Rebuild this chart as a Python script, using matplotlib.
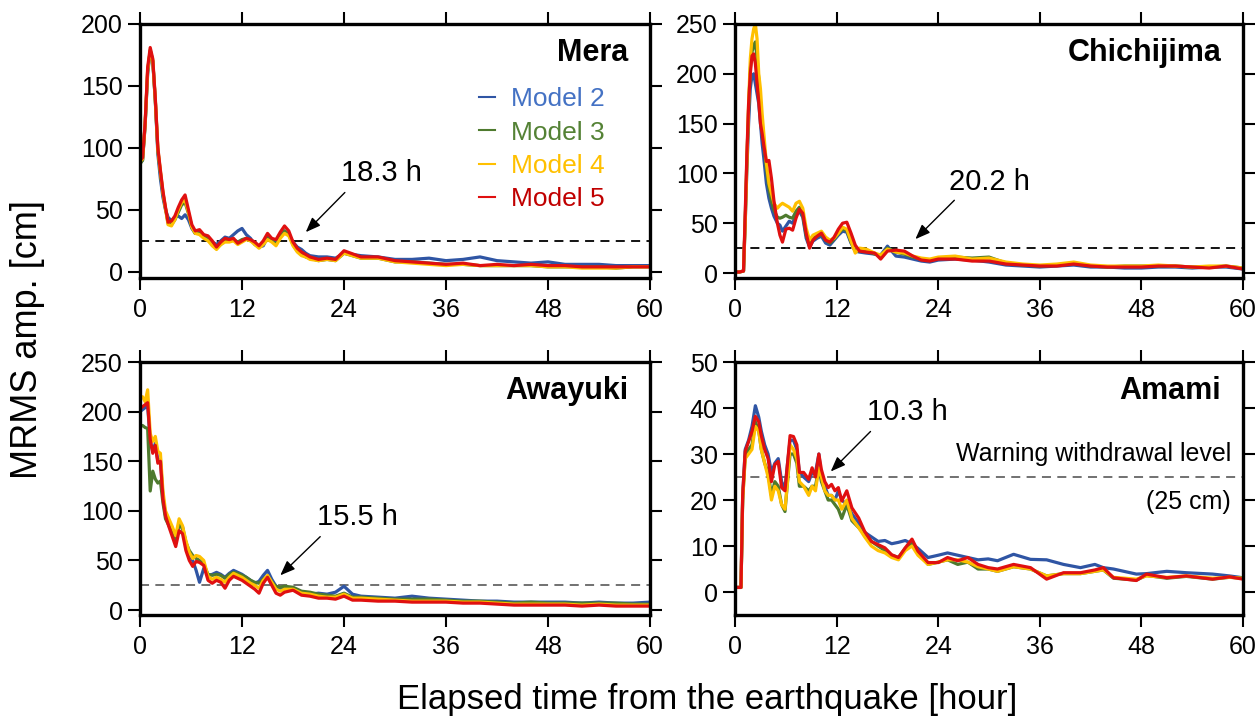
import matplotlib
matplotlib.use('Agg')
import matplotlib.pyplot as plt
from matplotlib.lines import Line2D

plt.rcParams['font.family'] = ['Liberation Sans', 'DejaVu Sans']

models = ['Model 2', 'Model 3', 'Model 4', 'Model 5']
line_colors = ['#2f55a4', '#4e7a2e', '#ffc000', '#e01010']
text_colors = ['#4472c4', '#548235', '#ffc000', '#c00000']

# ---- Mera ----
mera_t = [0, 0.3, 0.6, 0.9, 1.2, 1.5, 1.8, 2.1, 2.4, 2.7,
          3.0, 3.3, 3.7, 4.1, 4.5, 4.9, 5.3, 5.7, 6.1, 6.5,
          7.0, 7.5, 8.0, 8.5, 9.0, 9.5, 10, 10.5, 11, 11.5,
          12, 12.5, 13, 13.5, 14, 14.5, 15, 15.5, 16, 16.5,
          17, 17.5, 18, 18.5, 19, 19.5, 20, 21, 22, 23,
          24, 26, 28, 30, 32, 34, 36, 38, 40, 42,
          44, 46, 48, 50, 52, 54, 56, 58, 60]
mera_m2 = [88, 90, 118, 160, 178, 170, 138, 95, 75, 60,
           50, 44, 41, 44, 45, 43, 46, 42, 35, 31,
           32, 29, 27, 24, 22, 25, 28, 27, 30, 33,
           35, 30, 27, 22, 20, 21, 28, 25, 24, 28,
           33, 30, 24, 20, 18, 15, 13, 12, 12, 11,
           15, 13, 12, 10, 10, 11, 9, 10, 12, 9,
           8, 7, 8, 6, 6, 6, 5, 5, 5]
mera_m3 = [87, 90, 119, 162, 179, 170, 138, 98, 80, 63,
           51, 39, 38, 42, 48, 54, 56, 47, 36, 31,
           31, 28, 26, 22, 19, 22, 25, 25, 26, 24,
           26, 27, 25, 23, 20, 23, 27, 25, 22, 28,
           33, 30, 22, 17, 14, 12, 11, 9, 10, 9,
           15, 11, 11, 8, 8, 7, 6, 6, 5, 5,
           5, 5, 4, 4, 4, 4, 3, 4, 4]
mera_m4 = [89, 91, 119, 163, 178, 171, 139, 99, 81, 64,
           51, 38, 37, 42, 50, 56, 58, 48, 36, 31,
           30, 27, 25, 21, 18, 22, 24, 24, 25, 22,
           24, 26, 25, 22, 19, 22, 26, 24, 21, 27,
           31, 29, 21, 16, 13, 12, 10, 9, 10, 9,
           15, 11, 11, 8, 7, 6, 5, 6, 5, 5,
           5, 5, 4, 4, 3, 3, 3, 4, 4]
mera_m5 = [90, 92, 120, 165, 181, 172, 140, 100, 82, 65,
           52, 40, 41, 45, 52, 58, 62, 50, 38, 33,
           34, 30, 29, 25, 20, 24, 27, 26, 27, 23,
           25, 27, 26, 24, 21, 25, 31, 27, 26, 32,
           37, 33, 24, 19, 16, 14, 12, 10, 11, 10,
           17, 12, 12, 9, 8, 7, 6, 7, 5, 6,
           5, 6, 5, 5, 4, 4, 4, 4, 4]

# ---- Chichijima ----
chichi_t = [0, 0.5, 1.0, 1.2, 1.4, 1.6, 1.8, 2.0, 2.2, 2.4,
            2.6, 2.8, 3.0, 3.2, 3.4, 3.7, 4.0, 4.3, 4.6, 5.0,
            5.3, 5.6, 6.0, 6.4, 6.8, 7.2, 7.6, 8.0, 8.4, 8.8,
            9.2, 9.7, 10.2, 10.7, 11.2, 11.7, 12.2, 12.7, 13.2, 13.7,
            14.2, 14.7, 15.5, 16.5, 17.2, 18.0, 19.0, 20.0, 21.0, 22.0,
            23.0, 24.0, 26.0, 28.0, 30.0, 32.0, 34.0, 36.0, 38.0, 40.0,
            42.0, 44.0, 46.0, 48.0, 50.0, 52.0, 54.0, 56.0, 58.0, 60.0]
chichi_m2 = [1, 1, 2, 50, 105, 150, 185, 198, 200, 190,
             180, 170, 150, 130, 115, 90, 75, 65, 57, 50,
             48, 42, 47, 52, 50, 58, 62, 56, 35, 26,
             32, 35, 37, 30, 28, 33, 38, 42, 41, 30,
             22, 21, 20, 19, 18, 27, 17, 16, 14, 12,
             11, 13, 14, 13, 11, 8, 7, 6, 7, 8,
             6, 6, 5, 5, 6, 6, 5, 6, 6, 4]
chichi_m3 = [1, 1, 2, 55, 115, 165, 205, 222, 228, 232,
             215, 195, 170, 150, 130, 105, 85, 72, 63, 56,
             55, 56, 58, 56, 55, 62, 66, 58, 38, 28,
             35, 37, 39, 33, 30, 34, 40, 44, 43, 31,
             22, 23, 22, 19, 17, 25, 21, 19, 16, 14,
             13, 15, 16, 15, 16, 10, 8, 7, 8, 10,
             7, 6, 7, 7, 7, 7, 6, 6, 7, 5]
chichi_m4 = [1, 1, 2, 50, 110, 170, 215, 235, 245, 250,
             235, 200, 185, 160, 140, 110, 90, 80, 70, 65,
             68, 70, 68, 66, 62, 70, 72, 65, 45, 33,
             38, 40, 42, 36, 33, 35, 40, 46, 44, 32,
             20, 25, 24, 20, 18, 24, 21, 20, 17, 15,
             14, 16, 17, 14, 15, 11, 9, 8, 9, 11,
             8, 7, 7, 7, 8, 7, 6, 7, 7, 5]
chichi_m5 = [1, 1, 2, 60, 120, 170, 200, 218, 220, 210,
             190, 172, 150, 140, 128, 112, 113, 95, 72, 50,
             38, 31, 44, 45, 43, 55, 64, 60, 40, 25,
             33, 37, 40, 33, 31, 36, 44, 50, 51, 40,
             28, 22, 21, 20, 14, 22, 23, 22, 17, 13,
             12, 14, 14, 12, 12, 9, 8, 7, 7, 9,
             7, 6, 6, 6, 7, 7, 6, 5, 7, 4]

# ---- Awayuki ----
away_t = [0, 0.3, 0.6, 0.9, 1.2, 1.5, 1.8, 2.1, 2.4, 2.7,
          3.0, 3.4, 3.8, 4.2, 4.6, 5.0, 5.4, 5.8, 6.2, 6.6,
          7.0, 7.5, 8.0, 8.5, 9.0, 9.5, 10.0, 10.5, 11.0, 11.5,
          12.0, 12.5, 13.0, 13.5, 14.0, 14.5, 15.0, 15.5, 16.0, 16.5,
          17.0, 18.0, 19.0, 20.0, 21.0, 22.0, 23.0, 24.0, 25.0, 26.0,
          28.0, 30.0, 32.0, 34.0, 36.0, 38.0, 40.0, 42.0, 44.0, 46.0,
          48.0, 50.0, 52.0, 54.0, 56.0, 58.0, 60.0]
away_m2 = [200, 202, 204, 206, 170, 160, 168, 150, 152, 115,
           96, 88, 80, 70, 88, 84, 68, 56, 50, 40,
           28, 42, 35, 36, 38, 36, 33, 37, 40, 38,
           36, 33, 30, 27, 29, 35, 40, 31, 24, 22,
           23, 22, 18, 16, 17, 16, 18, 24, 16, 14,
           13, 12, 14, 12, 11, 10, 9, 9, 8, 8,
           8, 8, 7, 8, 7, 7, 8]
away_m3 = [185, 186, 184, 183, 120, 140, 132, 128, 130, 108,
           92, 85, 78, 72, 86, 82, 68, 60, 55, 52,
           50, 46, 36, 35, 36, 35, 32, 36, 38, 37,
           35, 33, 30, 28, 27, 31, 34, 28, 24, 23,
           24, 23, 19, 18, 16, 15, 14, 17, 13, 13,
           12, 11, 11, 11, 10, 9, 9, 8, 7, 8,
           7, 7, 7, 7, 7, 6, 6]
away_m4 = [213, 215, 210, 222, 178, 170, 175, 160, 158, 120,
           100, 92, 84, 75, 92, 85, 70, 58, 52, 55,
           54, 50, 34, 31, 33, 31, 28, 33, 37, 35,
           33, 30, 27, 25, 22, 30, 35, 28, 21, 19,
           21, 21, 17, 16, 14, 13, 13, 16, 12, 12,
           11, 10, 9, 9, 9, 8, 8, 7, 6, 6,
           6, 6, 5, 6, 5, 5, 5]
away_m5 = [203, 205, 207, 209, 172, 158, 166, 148, 150, 112,
           95, 84, 74, 64, 80, 77, 60, 50, 44, 49,
           48, 45, 30, 27, 30, 28, 22, 30, 34, 32,
           30, 27, 24, 21, 17, 27, 33, 25, 17, 15,
           18, 20, 15, 14, 12, 12, 11, 14, 10, 10,
           9, 9, 8, 8, 8, 7, 7, 6, 5, 5,
           5, 5, 4, 5, 4, 4, 4]

# ---- Amami ----
amami_t = [0, 0.4, 0.7, 0.9, 1.2, 1.6, 2.0, 2.4, 2.8, 3.1,
           3.5, 3.9, 4.3, 4.7, 5.1, 5.5, 5.9, 6.2, 6.5, 6.9,
           7.3, 7.6, 8.1, 8.7, 9.1, 9.5, 9.9, 10.2, 10.6, 11.0,
           11.4, 11.8, 12.2, 12.6, 13.2, 13.8, 14.6, 15.3, 16.1, 16.9,
           17.7, 18.5, 19.3, 20.1, 20.9, 21.6, 22.8, 24.0, 25.1, 26.3,
           27.5, 28.7, 29.9, 31.0, 32.9, 34.9, 36.8, 38.8, 40.8, 42.5,
           43.5, 44.7, 47.4, 48.6, 51.0, 53.3, 56.4, 58.4, 60.0]
amami_m2 = [1, 1, 1, 21, 31, 33, 36, 40.5, 38, 35,
            32, 30, 26, 28, 29, 24, 22.5, 28, 33, 33,
            31, 26, 25, 24, 26, 26, 30, 25, 23, 21,
            21, 20, 22, 20, 19, 17, 15, 13, 12, 11,
            11.2, 10.5, 10.8, 11.2, 10.5, 9.5, 7.5, 8, 8.5, 8,
            7.5, 7, 7.2, 6.8, 8.2, 7.1, 7, 6, 5.3, 6,
            5.3, 5, 3.9, 4, 4.5, 4.2, 3.9, 3.5, 3.1]
amami_m3 = [1, 1, 1, 20, 29.5, 31, 32, 37, 35, 31,
            28, 26, 21, 24, 23, 19, 17.5, 24, 30, 30,
            28, 23, 23, 22, 23, 23, 27, 24, 22, 20,
            20, 19, 18, 16, 19, 15.5, 14, 12.5, 11, 10,
            9, 8, 7.5, 9.5, 10.5, 8.5, 6, 6.5, 7, 6,
            6.5, 5, 5, 4.5, 5.5, 5, 3.5, 4, 4, 4.5,
            4.8, 3, 2.6, 3.6, 3, 3.4, 2.8, 3.2, 3]
amami_m4 = [1, 1, 1, 20, 29, 30, 31, 36, 35, 31,
            28, 25, 20, 23, 22, 19, 18, 24, 32, 31,
            29, 24, 23, 21, 23, 22, 27, 25, 22, 21,
            21, 20, 20, 18, 20, 16, 14, 12, 10, 9,
            8.5, 7.5, 7, 9, 10, 8, 6, 6.5, 7, 7,
            6.5, 5.5, 5, 4.5, 5.5, 5, 3.5, 4, 4, 4.5,
            4.8, 3.2, 2.8, 3.5, 3.2, 3.5, 3, 3.2, 3]
amami_m5 = [1, 1, 1, 21, 30.6, 32.7, 34.9, 38.2, 37, 34,
            31, 29, 24, 27.7, 28.4, 22.7, 22, 28, 34, 33.8,
            32, 26, 26, 24.5, 27, 25, 30, 26.6, 24, 22.7,
            23.4, 22, 22.7, 19.8, 22, 18.3, 16.1, 13.2, 11, 10.3,
            9.6, 8.1, 7.5, 9.6, 11.5, 8.9, 6.4, 6.4, 7.5, 6.8,
            7.5, 6, 5.3, 5, 6, 5.3, 2.8, 4.2, 4.2, 4.8,
            5.3, 3.1, 2.5, 3.9, 3.1, 3.5, 2.8, 3.3, 2.8]

stations = ['Mera', 'Chichijima', 'Awayuki', 'Amami']
times = [mera_t, chichi_t, away_t, amami_t]
series = [[mera_m2, mera_m3, mera_m4, mera_m5],
          [chichi_m2, chichi_m3, chichi_m4, chichi_m5],
          [away_m2, away_m3, away_m4, away_m5],
          [amami_m2, amami_m3, amami_m4, amami_m5]]
ylims = [(-5, 200), (-5, 250), (-5, 250), (-5, 50)]
ysteps = [50, 50, 50, 10]
level = 25
cross_labels = ['18.3 h', '20.2 h', '15.5 h', '10.3 h']
# arrow tip, arrow tail, label centre (data coords)
arrow_tips = [(19.5, 32), (21.3, 34), (16.5, 35), (11.3, 26.2)]
arrow_tails = [(24.1, 64), (25.9, 73), (21.2, 74), (16.0, 34.9)]
label_pos = [(28.4, 80), (30.0, 91), (25.6, 94), (20.4, 39.2)]

fig = plt.figure(figsize=(12.58, 7.2), dpi=100)
rects = [[0.1113, 0.6139, 0.4054, 0.3528],
         [0.5843, 0.6139, 0.4038, 0.3528],
         [0.1113, 0.1458, 0.4054, 0.3514],
         [0.5843, 0.1458, 0.4038, 0.3514]]

for i in range(4):
    ax = fig.add_axes(rects[i])
    for j in range(4):
        ax.plot(times[i], series[i][j], color=line_colors[j], lw=2.3,
                solid_joinstyle='round')
    dash_col = 'black' if i < 2 else '#666666'
    ax.axhline(level, color=dash_col, lw=1.3, ls=(0, (5, 3.5)), zorder=0.5)
    ax.set_xlim(0, 60)
    ax.set_ylim(*ylims[i])
    ax.set_xticks(range(0, 61, 12))
    ax.set_yticks(range(0, ylims[i][1] + 1, ysteps[i]))
    ax.tick_params(direction='out', length=8.5, width=1.5, top=True,
                   right=True, labelsize=18)
    ax.tick_params(axis='x', pad=6)
    ax.tick_params(axis='y', pad=4)
    for sp in ax.spines.values():
        sp.set_linewidth(2.4)
    ax.text(0.957, 0.885, stations[i], transform=ax.transAxes, ha='right',
            va='center', fontsize=22, fontweight='bold')
    ax.annotate('', xy=arrow_tips[i], xytext=arrow_tails[i],
                arrowprops=dict(arrowstyle='-|>,head_length=0.9,head_width=0.35',
                                color='black', lw=1.0, shrinkA=0, shrinkB=0))
    ax.text(label_pos[i][0], label_pos[i][1], cross_labels[i], ha='center',
            va='center', fontsize=21)
    if i == 0:
        handles = [Line2D([], [], color=c, lw=1.5) for c in line_colors]
        ax.legend(handles, models, loc='upper left',
                  bbox_to_anchor=(0.665, 0.75), frameon=False,
                  handlelength=0.6, handletextpad=0.6, labelspacing=0.35,
                  fontsize=19, borderpad=0, borderaxespad=0,
                  labelcolor=text_colors)
    if i == 3:
        ax.text(58.6, 29.9, 'Warning withdrawal level', ha='right',
                va='center', fontsize=18)
        ax.text(58.6, 19.5, '(25 cm)', ha='right', va='center', fontsize=18)

fig.text(0.562, 0.028, 'Elapsed time from the earthquake [hour]',
         ha='center', va='center', fontsize=25)
fig.text(0.022, 0.528, 'MRMS amp. [cm]', ha='center', va='center',
         rotation=90, fontsize=26)

plt.savefig('out.png', dpi=100)
